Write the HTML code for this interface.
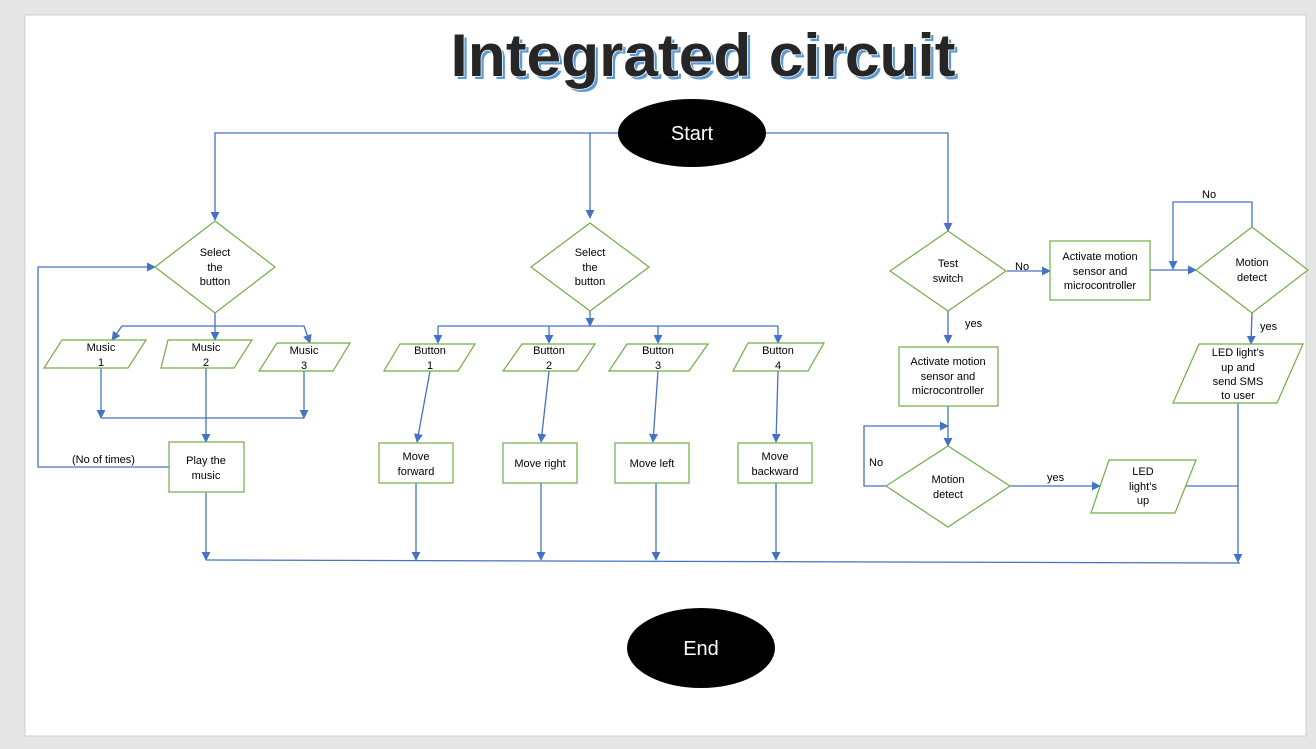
<!DOCTYPE html>
<html><head><meta charset="utf-8"><style>
html,body{margin:0;padding:0;background:#e6e6e6;}
svg{display:block;}
text{font-family:"Liberation Sans",sans-serif;font-size:11px;fill:#000;}
</style></head><body>
<svg width="1316" height="749" viewBox="0 0 1316 749" xmlns="http://www.w3.org/2000/svg">
<defs>
<marker id="a" viewBox="0 0 10 10" refX="9" refY="5" markerWidth="9" markerHeight="9" orient="auto-start-reverse" markerUnits="userSpaceOnUse"><path d="M0,0 L10,5 L0,10 z" fill="#4472c4"/></marker>
</defs>
<rect x="0" y="0" width="1316" height="749" fill="#e6e6e6"/>
<rect x="25" y="15" width="1281" height="721" fill="#fff" stroke="#cfcfcf"/>
<text x="703" y="76" text-anchor="middle" style="font-size:60px;font-weight:bold;fill:#5b9bd5" textLength="505" lengthAdjust="spacingAndGlyphs" transform="translate(3,3)">Integrated circuit</text>
<text x="703" y="76" text-anchor="middle" style="font-size:60px;font-weight:bold;fill:#262626;stroke:#fff;stroke-width:1.5;paint-order:stroke" textLength="505" lengthAdjust="spacingAndGlyphs">Integrated circuit</text>

<g fill="none" stroke="#4472c4" stroke-width="1.3">
<path d="M620,133 H215 V220" marker-end="url(#a)"/>
<path d="M590,133 V218" marker-end="url(#a)"/>
<path d="M766,133 H948 V231" marker-end="url(#a)"/>
<path d="M215,313 V326" />
<path d="M122,326 H290" />
<path d="M122,326 L112,340" marker-end="url(#a)"/>
<path d="M215,326 V340" marker-end="url(#a)"/>
<path d="M290,326 H304 L310,343" marker-end="url(#a)"/>
<path d="M101,368 V418" marker-end="url(#a)"/>
<path d="M304,371 V418" marker-end="url(#a)"/>
<path d="M101,418 H304"/>
<path d="M206,368 V442" marker-end="url(#a)"/>
<path d="M169,467 H38 V267 H155" marker-end="url(#a)"/>
<path d="M206,492 V560" marker-end="url(#a)"/>
<path d="M590,311 V326" marker-end="url(#a)"/>
<path d="M438,326 H778"/>
<path d="M438,326 V343" marker-end="url(#a)"/>
<path d="M549,326 V343" marker-end="url(#a)"/>
<path d="M658,326 V343" marker-end="url(#a)"/>
<path d="M778,326 V343" marker-end="url(#a)"/>
<path d="M430,371 L417,442" marker-end="url(#a)"/>
<path d="M549,371 L541,442" marker-end="url(#a)"/>
<path d="M658,371 L653,442" marker-end="url(#a)"/>
<path d="M778,371 L776,442" marker-end="url(#a)"/>
<path d="M416,483 V560" marker-end="url(#a)"/>
<path d="M541,483 V560" marker-end="url(#a)"/>
<path d="M656,483 V560" marker-end="url(#a)"/>
<path d="M776,483 V560" marker-end="url(#a)"/>
<path d="M206,560 L1240,563"/>
<path d="M1007,271 H1050" marker-end="url(#a)"/>
<path d="M1150,270 H1196" marker-end="url(#a)"/>
<path d="M1252,227 V202 H1173 V269" marker-end="url(#a)"/>
<path d="M1252,313 L1251,344" marker-end="url(#a)"/>
<path d="M1238,403 V562" marker-end="url(#a)"/>
<path d="M948,311 V343" marker-end="url(#a)"/>
<path d="M948,406 V446" marker-end="url(#a)"/>
<path d="M886,486 H864 V426 H948" marker-end="url(#a)"/>
<path d="M1010,486 H1100" marker-end="url(#a)"/>
<path d="M1186,486 H1238"/>
</g>

<g fill="#fff" stroke="#70ad47" stroke-width="1.2">
<polygon points="215,221 275,267 215,313 155,267"/>
<polygon points="590,223 649,267 590,311 531,267"/>
<polygon points="948,231 1006,271 948,311 890,271"/>
<polygon points="1252,227 1308,270 1252,313 1196,270"/>
<polygon points="948,446 1010,486 948,527 886,486"/>
<polygon points="62,340 146,340 128,368 44,368"/>
<polygon points="168,340 252,340 234,368 161,368"/>
<polygon points="277,343 350,343 333,371 259,371"/>
<polygon points="400,344 475,344 458,371 384,371"/>
<polygon points="522,344 595,344 577,371 503,371"/>
<polygon points="627,344 708,344 689,371 609,371"/>
<polygon points="748,343 824,343 808,371 733,371"/>
<polygon points="1199,344 1303,344 1277,403 1173,403"/>
<polygon points="1109,460 1196,460 1175,513 1091,513"/>
<rect x="169" y="442" width="75" height="50"/>
<rect x="379" y="443" width="74" height="40"/>
<rect x="503" y="443" width="74" height="40"/>
<rect x="615" y="443" width="74" height="40"/>
<rect x="738" y="443" width="74" height="40"/>
<rect x="1050" y="241" width="100" height="59"/>
<rect x="899" y="347" width="99" height="59"/>
</g>

<ellipse cx="692" cy="133" rx="74" ry="34" fill="#000"/>
<text x="692" y="140" text-anchor="middle" style="font-size:20px;fill:#fff">Start</text>
<ellipse cx="701" cy="648" rx="74" ry="40" fill="#000"/>
<text x="701" y="655" text-anchor="middle" style="font-size:20px;fill:#fff">End</text>

<g text-anchor="middle">
<text x="215" y="256">Select</text><text x="215" y="271">the</text><text x="215" y="285">button</text>
<text x="590" y="256">Select</text><text x="590" y="271">the</text><text x="590" y="285">button</text>
<text x="101" y="351">Music</text><text x="101" y="366">1</text>
<text x="206" y="351">Music</text><text x="206" y="366">2</text>
<text x="304" y="354">Music</text><text x="304" y="369">3</text>
<text x="430" y="354">Button</text><text x="430" y="369">1</text>
<text x="549" y="354">Button</text><text x="549" y="369">2</text>
<text x="658" y="354">Button</text><text x="658" y="369">3</text>
<text x="778" y="354">Button</text><text x="778" y="369">4</text>
<text x="206" y="464">Play the</text><text x="206" y="479">music</text>
<text x="416" y="460">Move</text><text x="416" y="475">forward</text>
<text x="540" y="467">Move right</text>
<text x="652" y="467">Move left</text>
<text x="775" y="460">Move</text><text x="775" y="475">backward</text>
<text x="948" y="267">Test</text><text x="948" y="282">switch</text>
<text x="1100" y="260">Activate motion</text><text x="1100" y="275">sensor and</text><text x="1100" y="289">microcontroller</text>
<text x="948" y="365">Activate motion</text><text x="948" y="380">sensor and</text><text x="948" y="394">microcontroller</text>
<text x="1252" y="266">Motion</text><text x="1252" y="281">detect</text>
<text x="948" y="483">Motion</text><text x="948" y="498">detect</text>
<text x="1238" y="356">LED light’s</text><text x="1238" y="371">up and</text><text x="1238" y="385">send SMS</text><text x="1238" y="399">to user</text>
<text x="1143" y="475">LED</text><text x="1143" y="490">light’s</text><text x="1143" y="504">up</text>
</g>
<text x="72" y="463">(No of times)</text>
<text x="1015" y="270">No</text>
<text x="1202" y="198">No</text>
<text x="1260" y="330">yes</text>
<text x="965" y="327">yes</text>
<text x="869" y="466">No</text>
<text x="1047" y="481">yes</text>
</svg>
</body></html>
